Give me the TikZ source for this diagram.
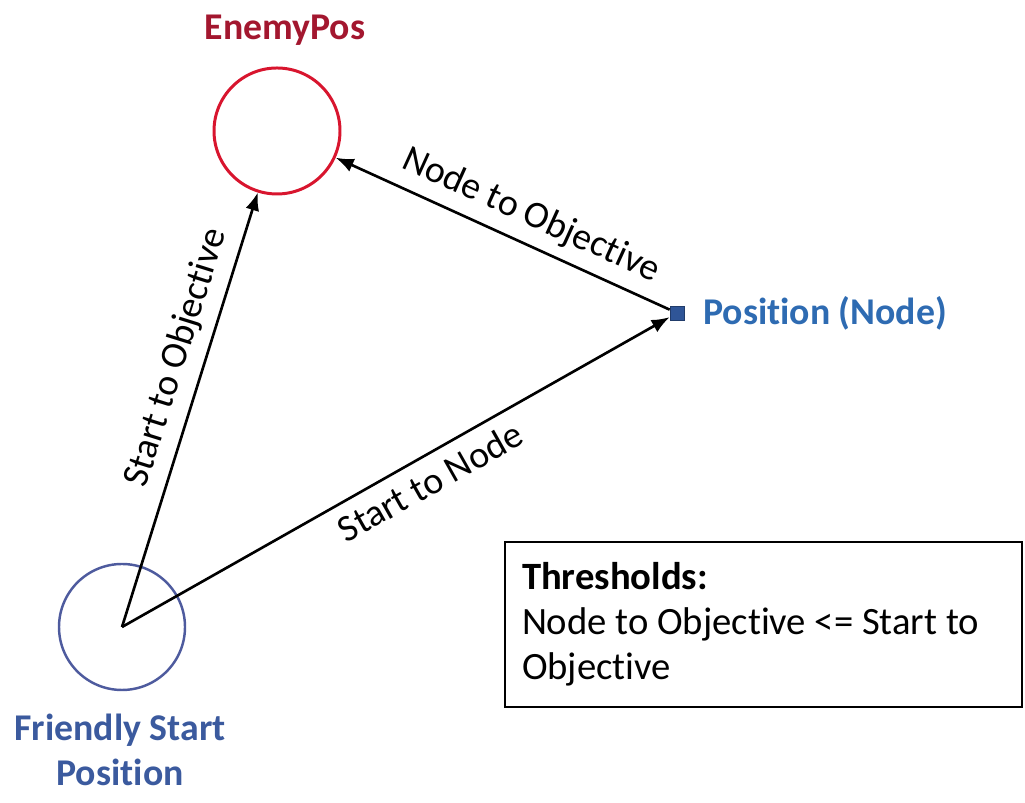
\documentclass[tikz,border=0pt]{standalone}
\usepackage{fontspec}
\setmainfont[Ligatures=NoCommon]{Carlito}
\usepackage{tikz}
\usetikzlibrary{arrows.meta,positioning}
\definecolor{Rojo}{HTML}{D8152E}
\definecolor{RojoOscuro}{HTML}{A3172F}
\definecolor{AzulCirculo}{HTML}{4E5B9E}
\definecolor{AzulTexto}{HTML}{3B5A9E}
\definecolor{AzulNodo}{HTML}{2E6BB2}
\definecolor{AzulCuadro}{HTML}{2F5597}

\begin{document}
\begin{tikzpicture}[
  font=\fontsize{21.5}{25.6}\selectfont,
  circulo/.style={circle,minimum size=2.52cm,inner sep=0pt},
  arr/.style={-{Latex[length=3.6mm,width=2.8mm]},line width=1.5pt,black},
  etiq/.style={sloped,inner sep=6pt}
]
  \useasboundingbox (0,0) rectangle (20.5,16.06);

  \node[circulo,draw=Rojo,line width=1.7pt] (enemy) at (5.54,13.44) {};
  \node[font=\fontsize{21.5}{25.6}\selectfont\bfseries,text=RojoOscuro] (enemylabel) at (5.70,15.46) {EnemyPos};

  \node[circulo,draw=AzulCirculo,line width=1.4pt] (friendly) at (2.44,3.52) {};
  \node[font=\fontsize{21.5}{25.6}\selectfont\bfseries,text=AzulTexto,align=center] (friendlylabel) at (2.40,1.07) {Friendly Start\\Position};

  \node[draw=AzulCuadro!70!black,fill=AzulCuadro,minimum size=0.28cm,inner sep=0pt] (posnode) at (13.54,9.80) {};
  \node[font=\fontsize{21.5}{25.6}\selectfont\bfseries,text=AzulNodo,anchor=west] (poslabel) at (13.94,9.80) {Position (Node)};

  \draw[arr] (friendly.center) -- node[etiq,above,pos=0.6]{Start to Objective} (enemy);
  \draw[arr] (friendly.center) -- node[etiq,below,pos=0.54]{Start to Node} (posnode);
  \draw[arr] (posnode) -- node[etiq,above,pos=0.45]{Node to Objective} (enemy);

  \node[draw,line width=1.6pt,minimum width=10.34cm,minimum height=3.3cm,
        inner xsep=0.34cm,text width=9.66cm,align=flush left,
        font=\fontsize{22}{25.6}\selectfont] (thresholds) at (15.27,3.57)
    {\textbf{Thresholds:}\\Node to Objective <= Start to\\Objective};
\end{tikzpicture}
\end{document}
